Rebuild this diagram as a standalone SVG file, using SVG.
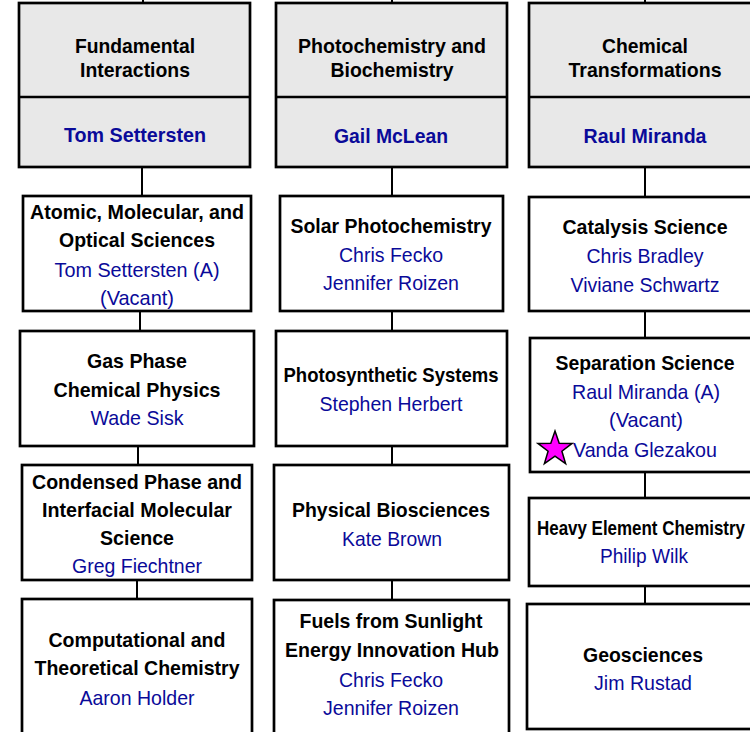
<svg xmlns="http://www.w3.org/2000/svg" width="750" height="732" viewBox="0 0 750 732">
<style>
.box{fill:#ffffff;stroke:#000;stroke-width:2.7}
.hdr{fill:#e8e8e8;stroke:#000;stroke-width:2.7}
.con{stroke:#000;stroke-width:2;fill:none}
text{font-family:"Liberation Sans",Arial,sans-serif;font-size:21px;text-anchor:middle}
.t{font-weight:bold;fill:#000}
.hn{font-weight:bold;fill:#0a0a99}
.n{fill:#0a0a99}
</style>
<rect width="750" height="732" fill="#ffffff"/>
<g id="connectors">
<path class="con" d="M143 0V3M142 167V196M140 311V331M138 446V465M137 580V599"/>
<path class="con" d="M392 0V3M392 167V196M392 311V331M392 446V465M392 580V600"/>
<path class="con" d="M645 0V3M645 167V197M645 311V338M645 472V498M645 586V604"/>
</g>
<g id="fundamental-interactions">
<rect class="hdr" x="19" y="3" width="231" height="164"/>
<line x1="19" y1="97" x2="250" y2="97" stroke="#000" stroke-width="2.7"/>
<text class="t" x="135" y="53" textLength="120" lengthAdjust="spacingAndGlyphs">Fundamental</text>
<text class="t" x="135" y="77" textLength="110" lengthAdjust="spacingAndGlyphs">Interactions</text>
<text class="hn" x="135" y="142" textLength="142" lengthAdjust="spacingAndGlyphs">Tom Settersten</text>
</g>
<g id="amos">
<rect class="box" x="23" y="196" width="228" height="115"/>
<text class="t" x="137" y="219" textLength="214" lengthAdjust="spacingAndGlyphs">Atomic, Molecular, and</text>
<text class="t" x="137" y="247" textLength="156" lengthAdjust="spacingAndGlyphs">Optical Sciences</text>
<text class="n" x="137" y="277" textLength="165" lengthAdjust="spacingAndGlyphs">Tom Settersten (A)</text>
<text class="n" x="137" y="305" textLength="74" lengthAdjust="spacingAndGlyphs">(Vacant)</text>
</g>
<g id="gas-phase">
<rect class="box" x="20" y="331" width="234" height="115"/>
<text class="t" x="137" y="368" textLength="100" lengthAdjust="spacingAndGlyphs">Gas Phase</text>
<text class="t" x="137" y="397" textLength="167" lengthAdjust="spacingAndGlyphs">Chemical Physics</text>
<text class="n" x="137" y="425" textLength="93" lengthAdjust="spacingAndGlyphs">Wade Sisk</text>
</g>
<g id="condensed-phase">
<rect class="box" x="22" y="465" width="230" height="115"/>
<text class="t" x="137" y="489" textLength="210" lengthAdjust="spacingAndGlyphs">Condensed Phase and</text>
<text class="t" x="137" y="517" textLength="190" lengthAdjust="spacingAndGlyphs">Interfacial Molecular</text>
<text class="t" x="137" y="545" textLength="74" lengthAdjust="spacingAndGlyphs">Science</text>
<text class="n" x="137" y="573" textLength="130" lengthAdjust="spacingAndGlyphs">Greg Fiechtner</text>
</g>
<g id="computational">
<rect class="box" x="22" y="599" width="230" height="150"/>
<text class="t" x="137" y="647" textLength="177" lengthAdjust="spacingAndGlyphs">Computational and</text>
<text class="t" x="137" y="675" textLength="205" lengthAdjust="spacingAndGlyphs">Theoretical Chemistry</text>
<text class="n" x="137" y="705" textLength="115" lengthAdjust="spacingAndGlyphs">Aaron Holder</text>
</g>
<g id="photochemistry-biochemistry">
<rect class="hdr" x="276" y="3" width="231" height="164"/>
<line x1="276" y1="97" x2="507" y2="97" stroke="#000" stroke-width="2.7"/>
<text class="t" x="392" y="53" textLength="188" lengthAdjust="spacingAndGlyphs">Photochemistry and</text>
<text class="t" x="392" y="77" textLength="123" lengthAdjust="spacingAndGlyphs">Biochemistry</text>
<text class="hn" x="391" y="143" textLength="114" lengthAdjust="spacingAndGlyphs">Gail McLean</text>
</g>
<g id="solar-photochemistry">
<rect class="box" x="280" y="196" width="223" height="115"/>
<text class="t" x="391" y="233" textLength="201" lengthAdjust="spacingAndGlyphs">Solar Photochemistry</text>
<text class="n" x="391" y="262" textLength="104" lengthAdjust="spacingAndGlyphs">Chris Fecko</text>
<text class="n" x="391" y="290" textLength="136" lengthAdjust="spacingAndGlyphs">Jennifer Roizen</text>
</g>
<g id="photosynthetic-systems">
<rect class="box" x="276" y="331" width="231" height="115"/>
<text class="t" x="391" y="382" textLength="215" lengthAdjust="spacingAndGlyphs">Photosynthetic Systems</text>
<text class="n" x="391" y="411" textLength="143" lengthAdjust="spacingAndGlyphs">Stephen Herbert</text>
</g>
<g id="physical-biosciences">
<rect class="box" x="274" y="465" width="235" height="115"/>
<text class="t" x="391" y="517" textLength="198" lengthAdjust="spacingAndGlyphs">Physical Biosciences</text>
<text class="n" x="392" y="546" textLength="100" lengthAdjust="spacingAndGlyphs">Kate Brown</text>
</g>
<g id="fuels-from-sunlight">
<rect class="box" x="274" y="600" width="235" height="150"/>
<text class="t" x="391" y="628" textLength="183" lengthAdjust="spacingAndGlyphs">Fuels from Sunlight</text>
<text class="t" x="392" y="657" textLength="214" lengthAdjust="spacingAndGlyphs">Energy Innovation Hub</text>
<text class="n" x="391" y="687" textLength="104" lengthAdjust="spacingAndGlyphs">Chris Fecko</text>
<text class="n" x="391" y="715" textLength="136" lengthAdjust="spacingAndGlyphs">Jennifer Roizen</text>
</g>
<g id="chemical-transformations">
<rect class="hdr" x="529" y="3" width="232" height="164"/>
<line x1="529" y1="97" x2="761" y2="97" stroke="#000" stroke-width="2.7"/>
<text class="t" x="645" y="53" textLength="86" lengthAdjust="spacingAndGlyphs">Chemical</text>
<text class="t" x="645" y="77" textLength="153" lengthAdjust="spacingAndGlyphs">Transformations</text>
<text class="hn" x="645" y="143" textLength="123" lengthAdjust="spacingAndGlyphs">Raul Miranda</text>
</g>
<g id="catalysis-science">
<rect class="box" x="529" y="197" width="232" height="114"/>
<text class="t" x="645" y="234" textLength="165" lengthAdjust="spacingAndGlyphs">Catalysis Science</text>
<text class="n" x="645" y="263" textLength="117" lengthAdjust="spacingAndGlyphs">Chris Bradley</text>
<text class="n" x="645" y="292" textLength="149" lengthAdjust="spacingAndGlyphs">Viviane Schwartz</text>
</g>
<g id="separation-science">
<rect class="box" x="530" y="338" width="230" height="134"/>
<text class="t" x="645" y="370" textLength="179" lengthAdjust="spacingAndGlyphs">Separation Science</text>
<text class="n" x="646" y="399" textLength="148" lengthAdjust="spacingAndGlyphs">Raul Miranda (A)</text>
<text class="n" x="646" y="427" textLength="74" lengthAdjust="spacingAndGlyphs">(Vacant)</text>
<text class="n" x="645" y="457" textLength="144" lengthAdjust="spacingAndGlyphs">Vanda Glezakou</text>
<polygon points="555,431 559.2,443.2 572.1,443.4 561.9,451.2 565.6,463.6 555,456.2 544.4,463.6 548.1,451.2 537.9,443.4 550.8,443.2" fill="#ff00ff" stroke="#000" stroke-width="1.5" stroke-linejoin="miter"/>
</g>
<g id="heavy-element-chemistry">
<rect class="box" x="529" y="498" width="232" height="88"/>
<text class="t" x="641" y="535" textLength="208" lengthAdjust="spacingAndGlyphs">Heavy Element Chemistry</text>
<text class="n" x="644" y="563" textLength="88" lengthAdjust="spacingAndGlyphs">Philip Wilk</text>
</g>
<g id="geosciences">
<rect class="box" x="527" y="604" width="236" height="125"/>
<text class="t" x="643" y="662" textLength="120" lengthAdjust="spacingAndGlyphs">Geosciences</text>
<text class="n" x="643" y="690" textLength="98" lengthAdjust="spacingAndGlyphs">Jim Rustad</text>
</g>
</svg>
